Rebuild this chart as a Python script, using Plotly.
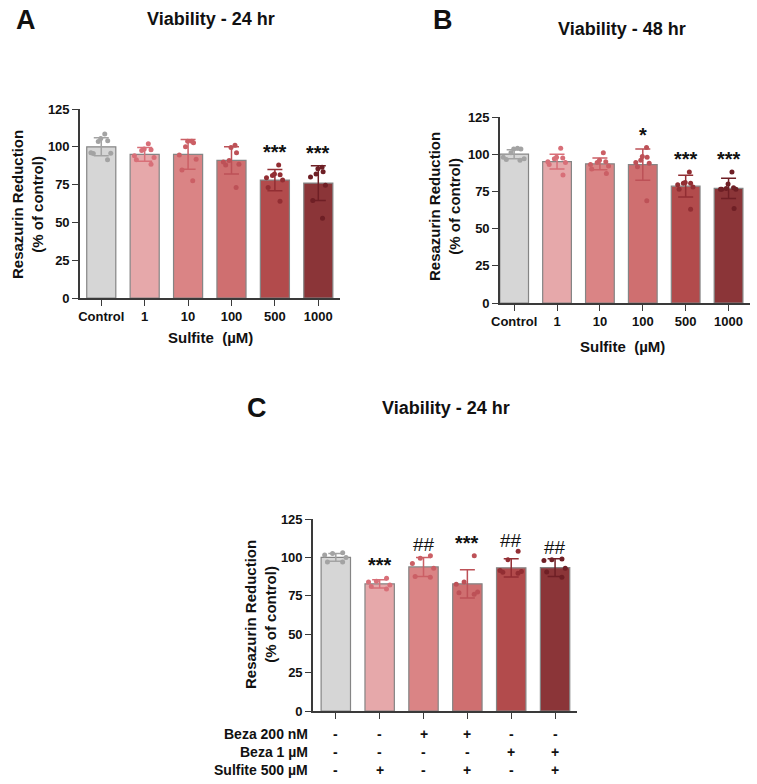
import plotly.graph_objects as go

W, H = 757, 784
FONT = "Liberation Sans, Arial, sans-serif"

# ---------------- data ----------------
groups_ab = ["Control", "1", "10", "100", "500", "1000"]

a_mean = [100, 95, 95, 91, 78, 76]
a_sd = [6.0, 4.5, 9.8, 9.0, 7.0, 11.5]
a_pts = [
    [108.5, 105.5, 104, 103.5, 96, 95.8, 95.5, 91.4],
    [102, 98.5, 98, 97.5, 94, 93, 91.5, 88.5],
    [103.7, 103.7, 102.6, 100, 94.5, 91.8, 84.6, 77.5],
    [101, 99.5, 96, 91, 90, 88.5, 88, 73],
    [88, 82, 81.5, 81, 79.5, 78, 73, 64],
    [86.5, 85.5, 83.5, 82, 80, 74.5, 64.5, 52.7],
]
a_sig = ["", "", "", "", "***", "***"]

b_mean = [100, 95, 93.5, 93, 78.5, 77]
b_sd = [3.0, 5.0, 4.0, 10.5, 7.3, 6.8]
b_pts = [
    [104, 103.5, 103.5, 101, 98, 97, 96.5, 96],
    [104, 98, 97.5, 97, 95, 94.5, 93, 86],
    [101, 96, 95, 94.5, 93, 92, 90, 87],
    [104.5, 98.5, 98, 96, 94.5, 94, 91.5, 68.8],
    [88, 81, 80.5, 80.5, 79.5, 78, 76.5, 63],
    [88, 80, 77.5, 77, 76.5, 76.5, 76.5, 63.5],
]
b_sig = ["", "", "", "*", "***", "***"]

c_mean = [100, 82.8, 93.8, 82.8, 93.2, 93.3]
c_sd = [2.5, 2.7, 6.2, 9.2, 6.0, 5.8]
c_pts = [
    [103, 102.5, 101.5, 100, 97, 97],
    [86.5, 84.5, 84, 82, 81, 79.5],
    [101, 99.5, 96, 93, 87.5, 87],
    [101, 84, 82.5, 77.5, 77, 76],
    [104, 98.5, 91.5, 90.8, 90.4, 89.7],
    [99, 98.5, 98, 93, 90.5, 87],
]
c_sig = ["", "***", "##", "***", "##", "##"]
c_row_labels = ["Beza 200 nM", "Beza 1 µM", "Sulfite 500 µM"]
c_beza200 = ["-", "-", "+", "+", "-", "-"]
c_beza1 = ["-", "-", "-", "-", "+", "+"]
c_sulfite = ["-", "+", "-", "+", "-", "+"]

y_ticks = [0, 25, 50, 75, 100, 125]

bar_colors = ["#d6d6d6", "#e6a8aa", "#da8485", "#cf6f70", "#b24b4c", "#8b3538"]
dot_colors = ["#a3a3a3", "#d86f78", "#cb5f65", "#bd5157", "#922e33", "#6e1f25"]


def px_x(p):
    return p / W


def px_y(p):
    return 1 - p / H


fig = go.Figure()


def add_panel(xa, ya, means, sds, pts, sigs):
    for i, (m, s, p) in enumerate(zip(means, sds, pts)):
        fig.add_trace(go.Bar(
            x=[i], y=[m], width=0.67,
            marker=dict(color=bar_colors[i], line=dict(color="#858585", width=1.2)),
            error_y=dict(type="data", array=[s], visible=True, color=dot_colors[i],
                         thickness=1.5, width=7.5),
            xaxis=xa, yaxis=ya, showlegend=False, hoverinfo="y",
        ))
    for i, p in enumerate(pts):
        fig.add_trace(go.Box(
            x=[i] * len(p), y=p, boxpoints="all", jitter=1.0, pointpos=0, width=0.6,
            marker=dict(color=dot_colors[i], size=5),
            line=dict(width=0, color="rgba(0,0,0,0)"), fillcolor="rgba(0,0,0,0)",
            xaxis=xa, yaxis=ya, showlegend=False, hoverinfo="y",
        ))
    anns = []
    for i, t in enumerate(sigs):
        if not t:
            continue
        base = max(max(pts[i]), means[i] + sds[i])
        anns.append(dict(
            x=i, y=base, xref=xa, yref=ya, text=t, showarrow=False,
            yanchor="middle", yshift=13 if t.startswith("*") else 11,
            font=dict(family=FONT, size=20 if t.startswith("*") else 19, color="#111",
                      weight="bold" if t.startswith("*") else "normal"),
        ))
    return anns


annotations = []
annotations += add_panel("x", "y", a_mean, a_sd, a_pts, a_sig)
annotations += add_panel("x2", "y2", b_mean, b_sd, b_pts, b_sig)
annotations += add_panel("x3", "y3", c_mean, c_sd, c_pts, c_sig)


def text_ann(x, y, text, size, weight="bold", angle=0, xanchor="center"):
    return dict(x=px_x(x), y=px_y(y), xref="paper", yref="paper", text=text,
                showarrow=False, xanchor=xanchor, yanchor="middle", textangle=angle,
                font=dict(family=FONT, size=size, color="#111", weight=weight))


# panel letters and titles
annotations += [
    text_ann(26, 20, "A", 27),
    text_ann(211, 19, "Viability - 24 hr", 18),
    text_ann(443, 20, "B", 27),
    text_ann(622, 29, "Viability - 48 hr", 18),
    text_ann(257, 408, "C", 27),
    text_ann(446, 408, "Viability - 24 hr", 18),
    # y titles
    text_ann(27, 205, "Resazurin Reduction<br>(% of control)", 15, angle=-90),
    text_ann(445, 207, "Resazurin Reduction<br>(% of control)", 15, angle=-90),
    text_ann(260, 615, "Resazurin Reduction<br>(% of control)", 15, angle=-90),
    # x titles
    text_ann(210, 337, "Sulfite\u00a0 (µM)", 15),
    text_ann(622, 347, "Sulfite\u00a0 (µM)", 15),
]

# panel C condition table
row_y = [734, 752, 770]
rows = [c_beza200, c_beza1, c_sulfite]
for lbl, ry, row in zip(c_row_labels, row_y, rows):
    annotations.append(text_ann(310, ry, lbl, 14, xanchor="right"))
    for i, sym in enumerate(row):
        annotations.append(dict(
            x=i, y=px_y(ry), xref="x3", yref="paper", text=sym, showarrow=False,
            xanchor="center", yanchor="middle",
            font=dict(family=FONT, size=14, color="#111", weight="bold"),
        ))

axis_common = dict(
    showline=True, linecolor="#3a3a3a", linewidth=1.6, ticks="outside", ticklen=6,
    tickwidth=1.4, tickcolor="#3a3a3a", showgrid=False, zeroline=False,
    tickfont=dict(family=FONT, size=13, color="#111", weight="bold"),
    fixedrange=True, automargin=False,
)

fig.update_layout(
    width=W, height=H, autosize=False,
    margin=dict(l=0, r=0, t=0, b=0),
    paper_bgcolor="white", plot_bgcolor="white",
    barmode="overlay", boxmode="overlay",
    showlegend=False,
    annotations=annotations,
    xaxis=dict(axis_common, domain=[px_x(80), px_x(340)], range=[-0.49, 5.5], anchor="y",
               tickvals=list(range(6)), ticktext=groups_ab),
    yaxis=dict(axis_common, domain=[px_y(298), px_y(109)], range=[0, 125], anchor="x",
               tickvals=y_ticks),
    xaxis2=dict(axis_common, domain=[px_x(500), px_x(750)], range=[-0.33, 5.5], anchor="y2",
                tickvals=list(range(6)), ticktext=groups_ab),
    yaxis2=dict(axis_common, domain=[px_y(303), px_y(117)], range=[0, 125], anchor="x2",
                tickvals=y_ticks),
    xaxis3=dict(axis_common, domain=[px_x(313), px_x(577)], range=[-0.52, 5.5], anchor="y3",
                tickvals=list(range(6)), ticktext=[""] * 6),
    yaxis3=dict(axis_common, domain=[px_y(711), px_y(519)], range=[0, 125], anchor="x3",
                tickvals=y_ticks),
)

fig.write_html(
    "out.html",
    config={"displayModeBar": False},
    post_script="document.body.style.margin='0';document.body.style.overflow='hidden';",
)
